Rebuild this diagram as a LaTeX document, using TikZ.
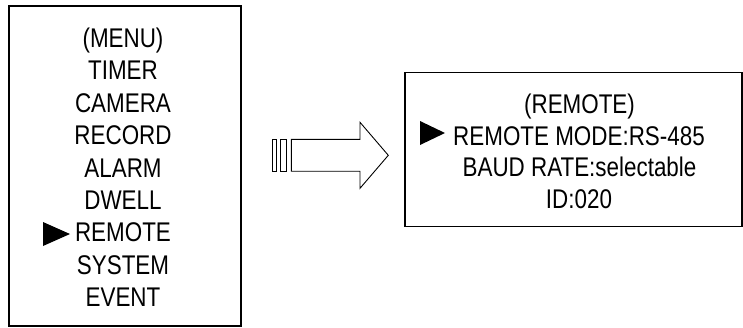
\documentclass[tikz,border=0pt]{standalone}
\usepackage{fontspec}
\setmainfont[FakeStretch=0.83]{Liberation Sans}
\begin{document}
\begin{tikzpicture}[x=1pt,y=-1pt,
  box/.style={draw=black,line width=1.3pt},
  txt/.style={anchor=base,inner sep=0pt,font=\fontsize{27}{29}\selectfont},
  marker/.style={fill=black,draw=none},
  blockarrow/.style={draw=black,line width=0.9pt,fill=white,line join=miter}]
\useasboundingbox (0,0) rectangle (743,327);
% left menu box
\draw[box] (9,6) rectangle (241,326);
\foreach \t [count=\i from 0] in {(MENU),TIMER,CAMERA,RECORD,ALARM,DWELL,REMOTE,SYSTEM,EVENT}
  \node[txt] (m\i) at (123,{47.5+32.4*\i}) {\t};
\fill[marker] (43,222) -- (70,234) -- (43,246) -- cycle;
% block arrow
\draw[blockarrow] (272.7,139.3) rectangle (276.7,171.2);
\draw[blockarrow] (280.3,139.3) rectangle (286.7,171.2);
\draw[blockarrow] (291.3,139.3) -- (360,139.3) -- (360,122.3) -- (388.3,155.3)
  -- (360,188.3) -- (360,171.2) -- (291.3,171.2) -- cycle;
% right remote box
\draw[box] (405,72.7) rectangle (742,226.7);
\node[txt] (r0) at (579.5,113.5) {(REMOTE)};
\node[txt] (r1) at (579,{113.5+31.7}) {REMOTE MODE:RS-485};
\node[txt] (r2) at (579.5,{113.5+2*31.7}) {BAUD RATE:selectable};
\node[txt] (r3) at (579,{113.5+3*31.7}) {ID:020};
\fill[marker] (420,121) -- (445,133) -- (420,145) -- cycle;
\end{tikzpicture}
\end{document}
